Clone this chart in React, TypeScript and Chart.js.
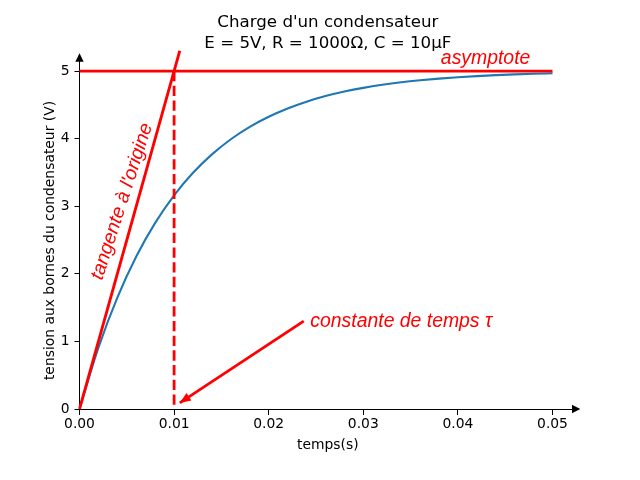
import { useEffect, useRef } from "react";
import { Chart, registerables } from "chart.js";

Chart.register(...registerables);

const titleLines = ["Charge d'un condensateur", "E = 5V, R = 1000Ω, C = 10µF"];
const xLabel = "temps(s)";
const yLabel = "tension aux bornes du condensateur (V)";

// charge curve
const chargeTimes = [
  0, 0.002, 0.004, 0.006, 0.008, 0.01, 0.012, 0.014, 0.016, 0.018, 0.02, 0.022, 0.024,
  0.026, 0.028, 0.03, 0.032, 0.034, 0.036, 0.038, 0.04, 0.042, 0.044, 0.046, 0.048, 0.05,
];
const chargeVoltages = [
  0, 0.906, 1.648, 2.256, 2.753, 3.161, 3.494, 3.767, 3.991, 4.174, 4.323, 4.446, 4.546,
  4.629, 4.696, 4.751, 4.796, 4.833, 4.863, 4.888, 4.908, 4.925, 4.939, 4.95, 4.959, 4.966,
];

const tangentTimes = [0, 0.0106];
const tangentVoltages = [0, 5.3];
const asymptoteTimes = [0, 0.05];
const asymptoteVoltages = [5, 5];
const tauTimes = [0.01, 0.01];
const tauVoltages = [5, 0];
const arrowTimes = [0.0237, 0.0106];
const arrowVoltages = [1.3, 0.09];

const xTicks = [0, 0.01, 0.02, 0.03, 0.04, 0.05];
const yTicks = [0, 1, 2, 3, 4, 5];

const labels = [
  { text: "asymptote", x: 0.0382, y: 5.1, rotation: 0, align: "left" as CanvasTextAlign, baseline: "alphabetic" as CanvasTextBaseline },
  { text: "tangente à l'origine", x: 0.0045, y: 3.07, rotation: -72, align: "center" as CanvasTextAlign, baseline: "middle" as CanvasTextBaseline },
  { text: "constante de temps τ", x: 0.0244, y: 1.21, rotation: 0, align: "left" as CanvasTextAlign, baseline: "alphabetic" as CanvasTextBaseline },
];

const RED = "#ff0000";
const BLUE = "#1f77b4";
const TICK_FONT = { family: "'DejaVu Sans', sans-serif", size: 13.89 };

const toPoints = (xs: number[], ys: number[]) => xs.map((x, i) => ({ x, y: ys[i] }));

const decorPlugin = {
  id: "decor",
  afterDraw(chart: any) {
    const { ctx, chartArea } = chart;
    const xs = chart.scales.x;
    const ys = chart.scales.y;
    const x0 = xs.getPixelForValue(0);
    const y0 = ys.getPixelForValue(0);
    ctx.save();

    // arrow heads at the axis ends
    ctx.fillStyle = "#000";
    const r = 4.17;
    ctx.beginPath();
    ctx.moveTo(chartArea.right + r, y0);
    ctx.lineTo(chartArea.right - r, y0 - r);
    ctx.lineTo(chartArea.right - r, y0 + r);
    ctx.closePath();
    ctx.fill();
    ctx.beginPath();
    ctx.moveTo(x0, chartArea.top - r);
    ctx.lineTo(x0 - r, chartArea.top + r);
    ctx.lineTo(x0 + r, chartArea.top + r);
    ctx.closePath();
    ctx.fill();

    // arrow head of the annotation
    const sx = xs.getPixelForValue(arrowTimes[0]);
    const sy = ys.getPixelForValue(arrowVoltages[0]);
    const tx = xs.getPixelForValue(arrowTimes[1]);
    const ty = ys.getPixelForValue(arrowVoltages[1]);
    const a = Math.atan2(ty - sy, tx - sx);
    const len = 11;
    const hw = 4.5;
    const bx = tx - len * Math.cos(a);
    const by = ty - len * Math.sin(a);
    ctx.fillStyle = RED;
    ctx.beginPath();
    ctx.moveTo(tx, ty);
    ctx.lineTo(bx - hw * Math.sin(a), by + hw * Math.cos(a));
    ctx.lineTo(bx + hw * Math.sin(a), by - hw * Math.cos(a));
    ctx.closePath();
    ctx.fill();

    // red texts
    ctx.font = "italic 19.4px 'Liberation Sans', Arial, sans-serif";
    ctx.fillStyle = RED;
    labels.forEach((l) => {
      ctx.save();
      ctx.translate(xs.getPixelForValue(l.x), ys.getPixelForValue(l.y));
      ctx.rotate((l.rotation * Math.PI) / 180);
      ctx.textAlign = l.align;
      ctx.textBaseline = l.baseline;
      ctx.fillText(l.text, 0, 0);
      ctx.restore();
    });

    // y axis label
    ctx.save();
    ctx.translate(50, 240.5);
    ctx.rotate(-Math.PI / 2);
    ctx.font = "13.89px 'DejaVu Sans', sans-serif";
    ctx.fillStyle = "#000";
    ctx.textAlign = "center";
    ctx.textBaseline = "middle";
    ctx.fillText(yLabel, 0, 0);
    ctx.restore();

    ctx.restore();
  },
};

export default function App() {
  const canvasRef = useRef<HTMLCanvasElement>(null);
  const chartRef = useRef<Chart | null>(null);

  useEffect(() => {
    if (!canvasRef.current) return;
    if (chartRef.current) chartRef.current.destroy();

    chartRef.current = new Chart(canvasRef.current, {
      type: "line",
      data: {
        datasets: [
          {
            data: toPoints(tangentTimes, tangentVoltages),
            borderColor: RED,
            borderWidth: 2.8,
            clip: false,
            order: 1,
          },
          {
            data: toPoints(asymptoteTimes, asymptoteVoltages),
            borderColor: RED,
            borderWidth: 2.8,
            clip: false,
            order: 1,
          },
          {
            data: toPoints(tauTimes, tauVoltages),
            borderColor: RED,
            borderWidth: 2.8,
            borderDash: [10.3, 4.4],
            order: 1,
          },
          {
            data: toPoints(arrowTimes, arrowVoltages),
            borderColor: RED,
            borderWidth: 2.8,
            order: 1,
          },
          {
            data: toPoints(chargeTimes, chargeVoltages),
            borderColor: BLUE,
            borderWidth: 2.08,
            cubicInterpolationMode: "monotone",
            order: 5,
          },
        ] as any,
      },
      options: {
        animation: false,
        responsive: true,
        maintainAspectRatio: false,
        events: [],
        elements: { point: { radius: 0 }, line: { tension: 0 } },
        layout: { padding: { left: 0, right: 63.85, top: 0, bottom: 71 } },
        scales: {
          x: {
            type: "linear",
            position: { y: 0 } as any,
            min: 0,
            max: 0.0525,
            afterFit: (s: any) => {
              s.height = 71;
            },
            afterBuildTicks: (s: any) => {
              s.ticks = xTicks.map((v) => ({ value: v }));
            },
            ticks: {
              color: "#000",
              font: TICK_FONT,
              padding: 2,
              maxRotation: 0,
              autoSkip: false,
              callback: (v: any) => Number(v).toFixed(2),
            },
            grid: { drawOnChartArea: false, drawTicks: true, tickLength: 5, color: "#000", lineWidth: 1 },
            border: { display: true, color: "#000", width: 1 },
            title: {
              display: true,
              text: xLabel,
              color: "#000",
              font: TICK_FONT,
              padding: { top: 0, bottom: 26.5 },
            },
          },
          y: {
            type: "linear",
            position: "left",
            min: 0,
            max: 5.2,
            afterFit: (s: any) => {
              s.width = 79.5;
            },
            afterBuildTicks: (s: any) => {
              s.ticks = yTicks.map((v) => ({ value: v }));
            },
            ticks: {
              color: "#000",
              font: TICK_FONT,
              padding: 5,
              callback: (v: any) => String(v),
            },
            grid: { drawOnChartArea: false, drawTicks: true, tickLength: 5, color: "#000", lineWidth: 1 },
            border: { display: true, color: "#000", width: 1 },
          },
        },
        plugins: {
          legend: { display: false },
          tooltip: { enabled: false },
          title: {
            display: true,
            fullSize: false,
            text: titleLines,
            color: "#000",
            font: { family: "'DejaVu Sans', sans-serif", size: 16.67, weight: "normal", lineHeight: 1.26 },
            padding: { top: 12, bottom: 3.5 },
          },
        },
      },
      plugins: [decorPlugin],
    });

    return () => {
      if (chartRef.current) {
        chartRef.current.destroy();
        chartRef.current = null;
      }
    };
  }, []);

  return (
    <div style={{ position: "fixed", left: 0, top: 0, width: "640px", height: "480px", background: "#fff" }}>
      <canvas ref={canvasRef}></canvas>
    </div>
  );
}
